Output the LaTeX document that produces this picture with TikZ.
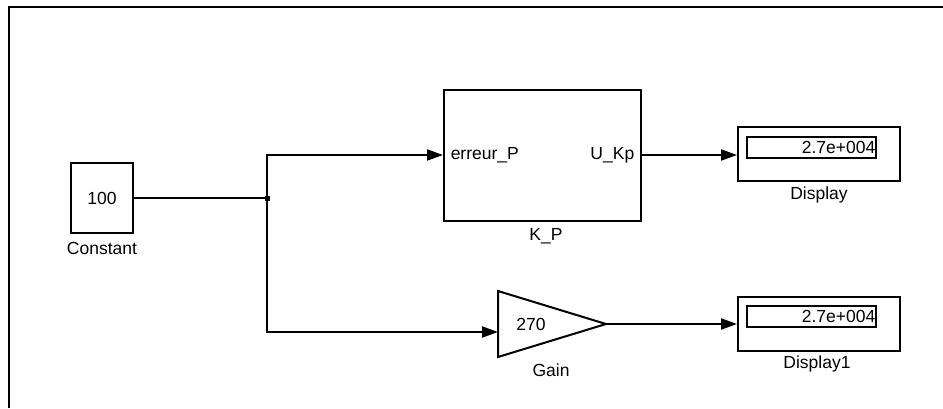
\documentclass[tikz,border=0pt]{standalone}
\usepackage{fontspec}
\setmainfont{Liberation Sans}
\usetikzlibrary{arrows.meta}

\tikzset{every picture/.style={line width=2pt}}
\tikzset{every node/.style={font=\fontsize{17.5}{20}\selectfont}}

\begin{document}
\begin{tikzpicture}[x=1pt,y=1pt,yscale=-1,xscale=1,
  blk/.style={draw,rectangle,inner sep=0pt},
  lbl/.style={inner sep=0.75pt},
  conn/.style={-{Triangle[length=16pt,width=11pt]}}]
\useasboundingbox (0,0) rectangle (943,408);

%Frame
\draw (9,408) -- (9,7) -- (943,7) ;

%Blocks
\node [blk,minimum width=62,minimum height=70] (const) at (102,198) {100};
\node [blk,minimum width=197,minimum height=131] (kp) at (542.5,155) {};
\node [blk,minimum width=162,minimum height=54] (disp) at (819,154) {};
\node [blk,minimum width=129,minimum height=21] (dispval) at (811.5,147.5) {};
\node [blk,minimum width=162,minimum height=54] (disp1) at (819,324) {};
\node [blk,minimum width=129,minimum height=21] (disp1val) at (811.5,316) {};
%Gain triangle
\draw (498,291) -- (606,324) -- (498,357) -- cycle ;
\coordinate (gainin) at (498,332);
\coordinate (gainout) at (606,324);

%Junction
\coordinate (junc) at (267,198);
\fill (junc) ++(-2.5,-2.5) rectangle ++(5,5);

%Connectors
\draw (const.east) -- (junc) ;
\draw [conn] (junc) |- (kp.west) ;
\draw [conn] (junc) |- (gainin) ;
\draw [conn] (kp.east) -- (disp.west |- kp.east) ;
\draw [conn] (gainout) -- (disp1.west) ;

% Text Node
\node [lbl] (constlbl) at (102,248) {Constant};
% Text Node
\node [lbl,anchor=west] (errp) at (449,155) {erreur\_P};
% Text Node
\node [lbl,anchor=east] (ukp) at (636,155) {U\_Kp};
% Text Node
\node [lbl] (kplbl) at (546,236) {K\_P};
% Text Node
\node [lbl,anchor=east] (dispnum) at (dispval.east) {2.7e+004};
% Text Node
\node [lbl] (displbl) at (819,195) {Display};
% Text Node
\node [lbl] (gainval) at (531,324) {270};
% Text Node
\node [lbl] (gainlbl) at (551,370) {Gain};
% Text Node
\node [lbl,anchor=east] (disp1num) at (disp1val.east) {2.7e+004};
% Text Node
\node [lbl] (disp1lbl) at (817,364) {Display1};

\end{tikzpicture}
\end{document}
